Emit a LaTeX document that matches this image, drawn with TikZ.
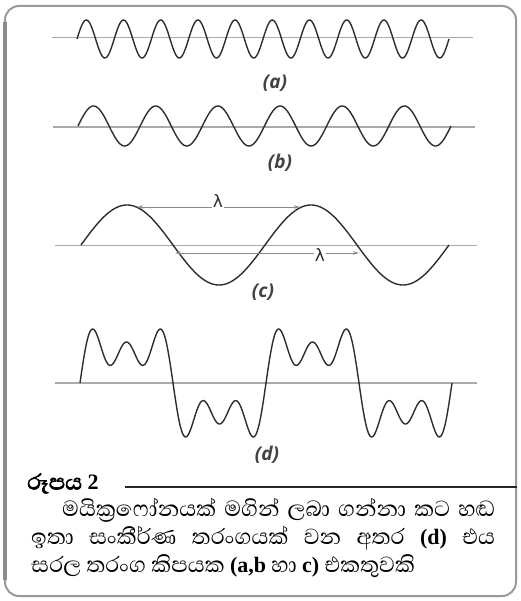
\documentclass[tikz,border=0pt]{standalone}
\usepackage{fontspec}
\usetikzlibrary{arrows.meta}
\newfontfamily\sinhfont[Script=Sinhala]{Abhaya Libre}
\newfontfamily\sinhbold[Script=Sinhala,FakeBold=2.5]{Abhaya Libre}
\newfontfamily\latbold{Liberation Serif}
\newfontfamily\lblfont{Open Sans}
\newfontfamily\lamfont{DejaVu Sans}
\newcommand\lb[1]{{\latbold\bfseries\fontsize{22}{23}\selectfont #1}}
\definecolor{axisgray}{HTML}{AAAAAA}
\definecolor{wavec}{HTML}{2E2E2E}
\definecolor{framegray}{HTML}{9A9A9A}
\definecolor{arrgray}{HTML}{8A8A8A}
\tikzset{
  axisline/.style={axisgray, line width=1.1pt},
  wave/.style={wavec, line width=1.4pt, line join=round},
  lblstyle/.style={font=\lblfont\bfseries\itshape\fontsize{19}{21}\selectfont, text=wavec!90},
  lamarrow/.style={arrgray, line width=0.8pt, {Stealth[length=6pt,width=3.5pt]}-{Stealth[length=6pt,width=3.5pt]}},
  lamlbl/.style={font=\lamfont\fontsize{17}{18}\selectfont, text=wavec, fill=white, inner sep=1pt},
  captext/.style={font=\sinhfont\fontsize{28}{30}\selectfont, text=black, inner sep=0pt, text height=11pt, text depth=4pt},
}
\begin{document}
\begin{tikzpicture}[x=1pt,y=-1pt]
\useasboundingbox (0,0) rectangle (520,601);
\fill[white] (0,0) rectangle (520,601);
% frame
\draw[framegray, line width=2pt, rounded corners=14pt] (5,6) rectangle (516,596);
\draw[framegray!90!black, line width=4pt] (5,22) -- (5,580);

% wave (a)
\coordinate (a1) at (52,37.5); \coordinate (a2) at (473,37.5);
\draw[axisline] (a1) -- (a2);
\draw[wave] plot[domain=77:449, samples=400] (\x, {39 - 19*sin((\x-77)/37.2*360)});
\node[lblstyle] (la) at (275,83) {(a)};

% wave (b)
\coordinate (b1) at (53,127); \coordinate (b2) at (475,127);
\draw[axisline] (b1) -- (b2);
\draw[wave] plot[domain=78:451, samples=300] (\x, {126 - 20*sin((\x-78)/62.17*360)});
\node[lblstyle] (lb) at (280,163) {(b)};

% wave (c)
\coordinate (c1) at (55,245.5); \coordinate (c2) at (477,245.5);
\draw[axisline] (c1) -- (c2);
\draw[wave] plot[domain=81:449, samples=300] (\x, {245 - 40*sin((\x-81)/184*360)});
\coordinate (l1s) at (137,207); \coordinate (l1e) at (300,207);
\coordinate (l2s) at (175,253); \coordinate (l2e) at (359,253);
\draw[lamarrow] (l1s) -- (l1e);
\draw[lamarrow] (l2s) -- (l2e);
\node[lamlbl] (lam1) at (218,201) {λ};
\node[lamlbl] (lam2) at (320,255) {λ};
\node[lblstyle] (lc) at (263,292) {(c)};

% wave (d)
\coordinate (d1) at (55,383); \coordinate (d2) at (477,383);
\draw[axisline] (d1) -- (d2);
\draw[wave] plot[domain=80:452, samples=500] (\x, {383 - 41*(sin((\x-80)/186*360) + 0.5*sin((\x-80)/186*1080) + 0.5*sin((\x-80)/186*1800))});
\node[lblstyle] (ld) at (267,455) {(d)};

% caption
\node[captext, anchor=west, font=\sinhbold\fontsize{28}{30}\selectfont] (hdr) at (27,486) {රූපය \lb{2}};
\coordinate (hl1) at (125,487); \coordinate (hl2) at (517,487);
\draw[black!85, line width=1.1pt] (hl1) -- (hl2);
\node[captext, anchor=west] (t1) at (62,513) {\makebox[433pt][s]{මයික්‍රෆෝනයක් මගින් ලබා ගන්නා කට හඬ}};
\node[captext, anchor=west] (t2) at (31,541) {\makebox[464pt][s]{ඉතා සංකීර්ණ තරංගයක් වන අතර \lb{(d)} එය}};
\node[captext, anchor=west] (t3) at (31,569) {සරල තරංග කිපයක \lb{(a,b} හා \lb{c)} එකතුවකි};
\end{tikzpicture}
\end{document}
